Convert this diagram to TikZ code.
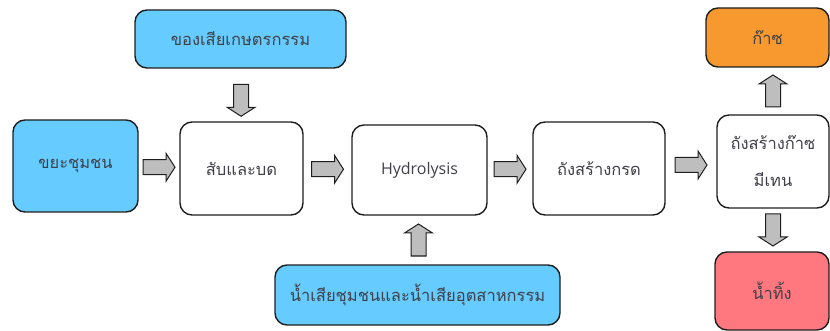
\documentclass[tikz,border=0pt]{standalone}
\usepackage{fontspec}
\newfontfamily\thaifont[Script=Thai]{Loma}
\setmainfont{Open Sans}
\usetikzlibrary{calc}
\definecolor{lblue}{RGB}{102,204,255}
\definecolor{orng}{RGB}{247,153,46}
\definecolor{pnk}{RGB}{255,120,128}
\definecolor{edge}{RGB}{30,30,30}
\definecolor{txt}{RGB}{64,64,72}
\definecolor{agray}{RGB}{190,190,190}
\tikzset{
  box/.style={draw=edge, line width=1.4pt, rounded corners=12pt, inner sep=0pt,
    align=center, text=txt, font=\thaifont\fontsize{16.5}{37}\selectfont},
  barrowline/.style={draw=edge, fill=agray, line width=1pt, line join=miter},
  rarrow/.pic={\path[barrowline] (-16,-7.5) -- (7,-7.5) -- (7,-14) -- (16,0) -- (7,14) -- (7,7.5) -- (-16,7.5) -- cycle;}
}
\begin{document}
\begin{tikzpicture}[x=1pt,y=-1pt]
\useasboundingbox (0,0) rectangle (830,331);
\begin{scope}
\clip (0,0) rectangle (830,331);
\node[box, fill=lblue, minimum width=125pt, minimum height=92pt] (kaya) at (75.5,166) {ขยะชุมชน};
\node[box, fill=white, minimum width=123pt, minimum height=93pt] (sap) at (241.5,168.5) {สับและบด};
\node[box, fill=white, minimum width=135pt, minimum height=90pt, font=\fontsize{16}{20}\selectfont] (hyd) at (419.5,170) {Hydrolysis};
\node[box, fill=white, minimum width=132pt, minimum height=93pt] (acid) at (599,168.5) {ถังสร้างกรด};
\node[box, fill=white, minimum width=112pt, minimum height=93pt] (meth) at (773,161.5) {ถังสร้างก๊าซ\\มีเทน};
\node[box, fill=lblue, minimum width=211pt, minimum height=58pt] (agri) at (240.5,39) {ของเสียเกษตรกรรม};
\node[box, fill=lblue, minimum width=285pt, minimum height=60pt] (water) at (417.5,295) {น้ำเสียชุมชนและน้ำเสียอุตสาหกรรม};
\node[box, fill=orng, minimum width=123pt, minimum height=59pt] (gas) at (767.5,37.5) {ก๊าซ};
\node[box, fill=pnk, minimum width=114pt, minimum height=78pt] (eff) at (772,291) {น้ำทิ้ง};
\end{scope}
\pic at ($(kaya.east)!0.5!(sap.west)$) {rarrow};
\pic at ($(sap.east)!0.5!(hyd.west)$) {rarrow};
\pic at ($(hyd.east)!0.5!(acid.west)$) {rarrow};
\pic at ($(acid.east)!0.5!(meth.west)$) {rarrow};
\pic[rotate=-90] at ($(agri.south)!0.6!(sap.north)$) {rarrow};
\pic[rotate=90] at ($(water.north)!0.5!(hyd.south)$) {rarrow};
\pic[rotate=90] at ($(meth.north)!0.5!(meth.north |- gas.south)$) {rarrow};
\pic[rotate=-90] at ($(meth.south)!0.5!(meth.south |- eff.north)$) {rarrow};
\end{tikzpicture}
\end{document}
